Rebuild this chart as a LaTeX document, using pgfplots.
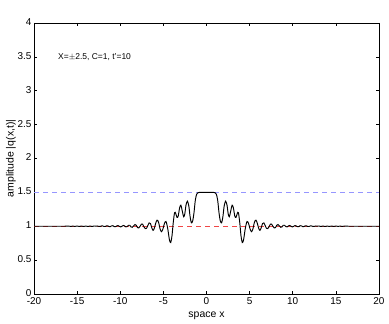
\documentclass[border=0pt]{standalone}
\usepackage{pgfplots}
\pgfplotsset{compat=1.18}
\usepackage{fontspec}
\setmainfont{Liberation Sans}
\definecolor{lblue}{RGB}{150,150,255}
\definecolor{lred}{RGB}{240,70,70}
\begin{document}
\begin{tikzpicture}
\useasboundingbox (-34bp,-30bp) rectangle (355bp,294bp);
\begin{axis}[
  at={(0,0)}, anchor=south west,
  scale only axis, width=345bp, height=271bp,
  xmin=-20, xmax=20, ymin=0, ymax=4,
  xtick={-20,-15,...,20}, ytick={0,0.5,...,4},
  yticklabels={0,0.5,1,1.5,2,2.5,3,3.5,4},
  tick align=inside, tick pos=both,
  major tick length=3bp,
  axis line style={line width=0.9pt},
  tick style={line width=0.7pt, black},
  /pgf/number format/assume math mode=true,
  tick label style={font=\fontsize{10}{11}\selectfont},
  xticklabel style={yshift=-0.5bp},
  yticklabel style={xshift=1bp, yshift=1bp},
  label style={font=\fontsize{10.5}{12}\selectfont},
  xlabel={space x}, ylabel={amplitude |q(x,t)|},
  xlabel style={yshift=0bp},
  ylabel style={yshift=-5bp},
  clip=true,
]
\addplot[lblue, dashed, dash pattern=on 5bp off 4bp, line width=0.6pt] coordinates {(-20,1.5) (20,1.5)};
\addplot[lred, dashed, dash pattern=on 5bp off 4bp, line width=0.6pt] coordinates {(-20,1) (20,1)};
\addplot[black, line width=0.95pt, smooth, tension=0.5] coordinates {
(-20,1.0) (-19,1.0) (-18,1.0) (-17,1.0) (-16.5,1.0) (-16,1.002) (-15.75,0.998) (-15.5,1.002) (-15.25,0.998) (-15,1.003) (-14.75,0.997) (-14.5,1.003) (-14.25,0.997) (-14,1.003) (-13.75,0.997) (-13.5,1.003) (-13.25,0.997) (-13.0,1.004)
(-12.8,1.002) (-12.65,1.004) (-12.5,0.998) (-12.35,0.996) (-12.2,1.004) (-12.05,1.005) (-11.9,0.997) (-11.75,0.996) (-11.6,1.005) (-11.45,1.006) (-11.3,0.996) (-11.15,0.995) (-11.0,1.006) (-10.85,1.008) (-10.7,0.995) (-10.55,0.993) (-10.4,1.005) (-10.25,1.01) (-10.1,0.998) (-9.95,0.99) (-9.8,1.0) (-9.65,1.012) (-9.5,1.005) (-9.35,0.99) (-9.2,0.995) (-9.05,1.015) (-8.9,1.015) (-8.75,0.99) (-8.6,0.985) (-8.45,1.005) (-8.3,1.025) (-8.15,1.015) (-8.0,0.98) (-7.85,0.975) (-7.7,1.0) (-7.55,1.03) (-7.4,1.03) (-7.25,0.99) (-7.1,0.965)
(-6.95,0.97) (-6.8,1.01) (-6.65,1.05) (-6.5,1.04) (-6.35,0.98) (-6.2,0.94) (-6.05,0.97) (-5.9,1.04) (-5.73,1.09) (-5.56,1.06) (-5.38,0.96) (-5.22,0.92) (-5.05,0.96) (-4.88,1.04) (-4.7,1.07) (-4.5,0.97) (-4.3,0.8) (-4.15,0.76) (-4.0,0.86) (-3.85,1.06) (-3.7,1.2) (-3.57,1.19) (-3.42,1.13) (-3.28,1.15) (-3.12,1.27) (-2.97,1.31) (-2.8,1.22) (-2.65,1.14) (-2.52,1.18) (-2.38,1.31) (-2.22,1.37) (-2.05,1.3) (-1.9,1.14) (-1.75,1.05) (-1.6,1.08) (-1.45,1.2) (-1.3,1.38) (-1.15,1.47) (-1.0,1.495) (-0.8,1.5)
(0,1.5)
(0.8,1.5) (1.0,1.495) (1.15,1.47) (1.3,1.38) (1.45,1.2) (1.6,1.08) (1.75,1.05) (1.9,1.14) (2.05,1.3) (2.22,1.37) (2.38,1.31) (2.52,1.18) (2.65,1.14) (2.8,1.22) (2.97,1.31) (3.12,1.27) (3.28,1.15) (3.42,1.13) (3.57,1.19) (3.7,1.2) (3.85,1.06) (4.0,0.86) (4.15,0.76) (4.3,0.8) (4.5,0.97) (4.7,1.07) (4.88,1.04) (5.05,0.96) (5.22,0.92) (5.38,0.96) (5.56,1.06) (5.73,1.09) (5.9,1.04) (6.05,0.97) (6.2,0.94) (6.35,0.98) (6.5,1.04) (6.65,1.05) (6.8,1.01) (6.95,0.97)
(7.1,0.965) (7.25,0.99) (7.4,1.03) (7.55,1.03) (7.7,1.0) (7.85,0.975) (8.0,0.98) (8.15,1.015) (8.3,1.025) (8.45,1.005) (8.6,0.985) (8.75,0.99) (8.9,1.015) (9.05,1.015) (9.2,0.995) (9.35,0.99) (9.5,1.005) (9.65,1.012) (9.8,1.0) (9.95,0.99) (10.1,0.998) (10.25,1.01) (10.4,1.005) (10.55,0.993) (10.7,0.995) (10.85,1.008) (11.0,1.006) (11.15,0.995) (11.3,0.996) (11.45,1.006) (11.6,1.005) (11.75,0.996) (11.9,0.997) (12.05,1.005) (12.2,1.004) (12.35,0.996) (12.5,0.998) (12.65,1.004) (12.8,1.002)
(13.0,1.004) (13.25,0.997) (13.5,1.003) (13.75,0.997) (14,1.003) (14.25,0.997) (14.5,1.003) (14.75,0.997) (15,1.003) (15.25,0.998) (15.5,1.002) (15.75,0.998) (16,1.002) (16.5,1.0) (17,1.0) (18,1.0) (19,1.0) (20,1.0)
};
\node[anchor=west, font=\fontsize{8.5}{10}\selectfont] at (axis cs:-17.6,3.5) {X=$\pm$2.5, C=1, t'=10};
\end{axis}
\end{tikzpicture}
\end{document}
